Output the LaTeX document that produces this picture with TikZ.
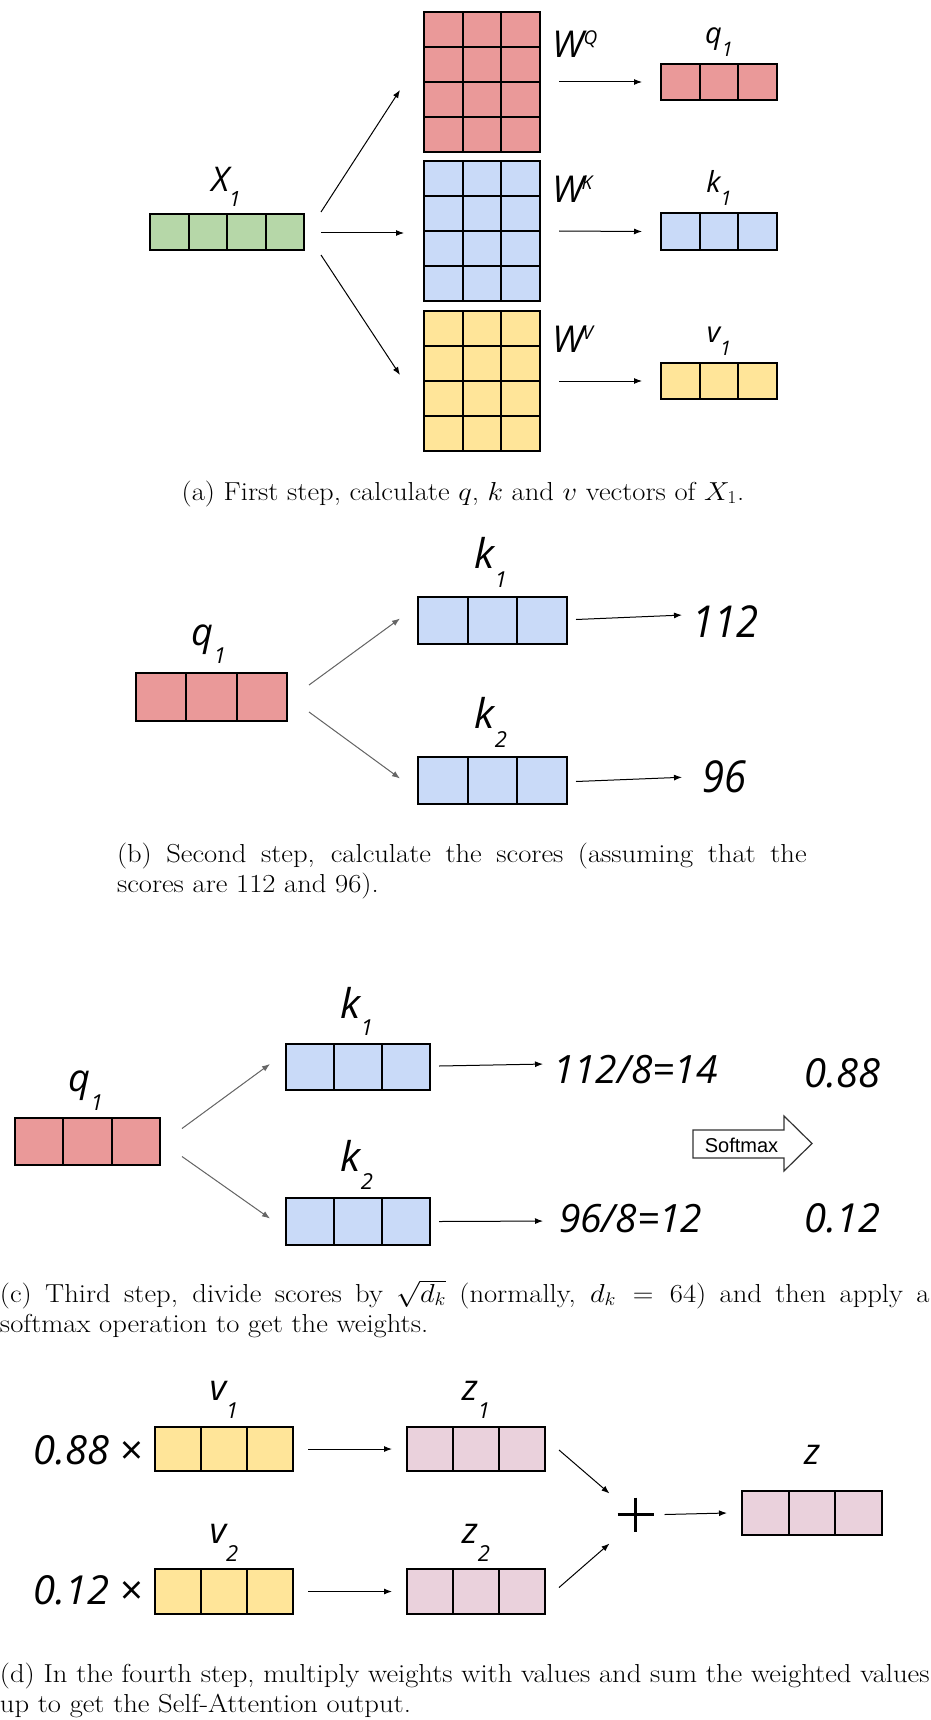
\RequirePackage{fix-cm}
\documentclass[tikz,border=0pt]{standalone}
\usepackage{fontspec}
\setmainfont{Latin Modern Roman}
\newfontfamily\lblfont{Open Sans}
\newfontfamily\arialfont{Liberation Sans}
\usetikzlibrary{arrows.meta}
\definecolor{cred}{HTML}{EA9999}
\definecolor{cblue}{HTML}{C9DAF8}
\definecolor{cyel}{HTML}{FFE599}
\definecolor{cgreen}{HTML}{B6D7A8}
\definecolor{cpink}{HTML}{EAD1DC}
\definecolor{garrow}{HTML}{666666}
\newcommand\capfont{\fontsize{26}{30.5}\selectfont}
\tikzset{
  gridbox/.style={draw=black, line width=2pt, inner sep=0pt, outer sep=0pt, anchor=north west},
  cellline/.style={draw=black, line width=2pt},
  arr/.style={-{Latex[length=8pt,width=6pt]}, line width=1pt, draw=black},
  garr/.style={-{Latex[length=8pt,width=6pt]}, line width=1pt, draw=garrow, fill=garrow},
  lbl/.style={inner sep=0pt, outer sep=0pt, anchor=base, font=\lblfont\itshape},
  captext/.style={inner sep=0pt, outer sep=0pt, font=\capfont},
}
\newcommand\gridnode[8]{%
  \node[gridbox, fill=#8, minimum width={#4pt-#2pt}, minimum height={#5pt-#3pt}] (#1) at (#2,#3) {};
  \foreach \i in {1,...,#6}{\ifnum\i<#6\relax \draw[cellline] ({#2+\i*(#4-#2)/#6},#3) -- ({#2+\i*(#4-#2)/#6},#5);\fi}
  \foreach \j in {1,...,#7}{\ifnum\j<#7\relax \draw[cellline] (#2,{#3+\j*(#5-#3)/#7}) -- (#4,{#3+\j*(#5-#3)/#7});\fi}
}
\newcommand\lab[5]{{\fontsize{#1}{#1}\selectfont #2}\raisebox{-#4pt}{\fontsize{#3}{#3}\selectfont #5}}
\newcommand\wlab[2]{{\fontsize{37}{37}\selectfont W}\kern#2pt\raisebox{13pt}{\fontsize{19}{19}\selectfont #1}}
\newcommand\num[2]{\scalebox{1}[1.1]{\fontsize{#1}{#1}\selectfont #2}}
\begin{document}
\begin{tikzpicture}[x=1pt,y=-1pt]
\fill[white] (0,0) rectangle (930,1720);
\useasboundingbox (0,0) rectangle (930,1720);
% ---------- (a)
\gridnode{x1}{150}{214}{304}{250}{4}{1}{cgreen}
\gridnode{wq}{424}{12}{540}{152}{3}{4}{cred}
\gridnode{wk}{424}{161}{540}{301}{3}{4}{cblue}
\gridnode{wv}{424}{311}{540}{451}{3}{4}{cyel}
\gridnode{q1}{661}{64}{777}{100}{3}{1}{cred}
\gridnode{k1}{661}{213}{777}{250}{3}{1}{cblue}
\gridnode{v1}{661}{363}{777}{399}{3}{1}{cyel}
\node[lbl] (lx1) at (226,192) {\lab{34}{X}{21}{15}{1}};
\node[lbl, anchor=base west] (lwq) at (552,58) {\wlab{Q}{0}};
\node[lbl, anchor=base west] (lwk) at (552,203) {\wlab{K}{-2}};
\node[lbl, anchor=base west] (lwv) at (552,352) {\wlab{V}{-1}};
\node[lbl] (lq1) at (719,44) {\lab{29}{q}{20}{13}{1}};
\node[lbl] (lk1) at (719,193) {\lab{29}{k}{20}{13}{1}};
\node[lbl] (lv1) at (719,342) {\lab{29}{v}{20}{13}{1}};
\draw[arr] ([shift={(17,-20)}]x1.east) -- ([shift={(-24,8)}]wq.west);
\draw[arr] ([shift={(17,1)}]x1.east) -- ([shift={(-20,2)}]wk.west);
\draw[arr] ([shift={(17,23)}]x1.east) -- ([shift={(-24,-6)}]wv.west);
\draw[arr] ([xshift=19pt]wq.east) -- ([xshift=-19pt]q1.west);
\draw[arr] ([xshift=19pt]wk.east) -- ([xshift=-19pt]k1.west);
\draw[arr] ([xshift=19pt]wv.east) -- ([xshift=-19pt]v1.west);
\node[captext, anchor=base] (capa) at (463,500) {\scalebox{1.1}[1]{(a) First step, calculate $q$, $k$ and $v$ vectors of $X_1$.}};
% ---------- (b)
\gridnode{bq1}{136}{673}{287}{721}{3}{1}{cred}
\gridnode{bk1}{418}{597}{567}{644}{3}{1}{cblue}
\gridnode{bk2}{418}{757}{567}{804}{3}{1}{cblue}
\node[lbl] (lbq1) at (209,645) {\lab{38}{q}{22}{18}{1}};
\node[lbl] (lbk1) at (491,568) {\lab{41}{k}{22}{19}{1}};
\node[lbl] (lbk2) at (491,728) {\lab{41}{k}{22}{19}{2}};
\node[lbl, anchor=base west] (s1) at (692,637) {\num{40}{112}};
\node[lbl, anchor=base west] (s2) at (702,792) {\num{40}{96}};
\draw[garr] ([shift={(22,-12)}]bq1.east) -- ([shift={(-18,-2)}]bk1.west);
\draw[garr] ([shift={(22,15)}]bq1.east) -- ([shift={(-18,-2)}]bk2.west);
\draw[arr] ([shift={(9,-1)}]bk1.east) -- ([shift={(-10,-6)}]s1.west);
\draw[arr] ([shift={(9,1)}]bk2.east) -- ([shift={(-20,1)}]s2.west);
\node[captext, anchor=base west] (capb) at (117,862) {\scalebox{1.1}[1]{\parbox[t]{627pt}{(b) Second step, calculate the scores (assuming that the\linebreak scores are 112 and 96).}}};
% ---------- (c)
\gridnode{cq1}{15}{1118}{160}{1165}{3}{1}{cred}
\gridnode{ck1}{286}{1044}{430}{1090}{3}{1}{cblue}
\gridnode{ck2}{286}{1198}{430}{1245}{3}{1}{cblue}
\node[lbl] (lcq1) at (86,1091) {\lab{38}{q}{22}{19}{1}};
\node[lbl] (lck1) at (357,1018) {\lab{41}{k}{22}{17}{1}};
\node[lbl] (lck2) at (357,1171) {\lab{41}{k}{22}{18}{2}};
\node[lbl, anchor=base west] (t1) at (553,1083) {\fontsize{39}{39}\selectfont 112/8=14};
\node[lbl, anchor=base west] (t2) at (559,1232) {\fontsize{39}{39}\selectfont 96/8=12};
\node[lbl, anchor=base west] (p1) at (804,1087) {\fontsize{40}{40}\selectfont 0.88};
\node[lbl, anchor=base west] (p2) at (804,1232) {\fontsize{40}{40}\selectfont 0.12};
\draw[garr] ([shift={(22,-13)}]cq1.east) -- ([shift={(-16,-3)}]ck1.west);
\draw[garr] ([shift={(22,15)}]cq1.east) -- ([shift={(-16,-3)}]ck2.west);
\draw[arr] ([shift={(9,-1)}]ck1.east) -- ([shift={(-10,-5)}]t1.west);
\draw[arr] ([shift={(9,0)}]ck2.east) -- ([shift={(-16,3)}]t2.west);
\draw[line width=1.2pt, draw=black!80, fill=white] (693,1130) -- (784,1130) -- (784,1116) -- (812,1143.5) -- (784,1171) -- (784,1158) -- (693,1158) -- cycle;
\node[inner sep=0pt, anchor=base, font=\arialfont\fontsize{20}{20}\selectfont] (smx) at (741.5,1152) {Softmax};
\node[captext, anchor=base west] (capc) at (0,1302) {\scalebox{1.1}[1]{\parbox[t]{845pt}{(c) Third step, divide scores by $\sqrt{d_k}$ (normally, $d_k = 64$) and then apply a\linebreak softmax operation to get the weights.}}};
% ---------- (d)
\gridnode{dv1}{155}{1427}{293}{1471}{3}{1}{cyel}
\gridnode{dz1}{407}{1427}{545}{1471}{3}{1}{cpink}
\gridnode{dv2}{155}{1569}{293}{1614}{3}{1}{cyel}
\gridnode{dz2}{407}{1569}{545}{1614}{3}{1}{cpink}
\gridnode{dz}{742}{1491}{882}{1535}{3}{1}{cpink}
\node[lbl] (ldv1) at (224,1400) {\lab{36}{v}{22}{18}{1}};
\node[lbl] (ldz1) at (476,1400) {\lab{36}{z}{22}{18}{1}};
\node[lbl] (ldv2) at (224,1543) {\lab{36}{v}{22}{18}{2}};
\node[lbl] (ldz2) at (476,1543) {\lab{36}{z}{22}{18}{2}};
\node[lbl] (ldz) at (812,1464) {\fontsize{36}{36}\selectfont z};
\node[lbl, anchor=base east] (w1) at (143,1464) {\fontsize{40}{40}\selectfont 0.88 {\upshape ×}};
\node[lbl, anchor=base east] (w2) at (143,1604) {\fontsize{40}{40}\selectfont 0.12 {\upshape ×}};
\node[inner sep=0pt, outer sep=0pt, minimum width=36pt, minimum height=34pt] (plus) at (635.5,1514.5) {};
\draw[line width=3.5pt] (plus.west) -- (plus.east) (plus.north) -- (plus.south);
\draw[arr] ([xshift=15pt]dv1.east) -- ([xshift=-15pt]dz1.west);
\draw[arr] ([xshift=15pt]dv2.east) -- ([xshift=-15pt]dz2.west);
\draw[arr] ([shift={(14,1)}]dz1.east) -- ([shift={(-8,-4)}]plus.north west);
\draw[arr] ([shift={(14,-4)}]dz2.east) -- ([shift={(-8,12)}]plus.south west);
\draw[arr] ([xshift=11pt]plus.east) -- ([xshift=-15pt]dz.west);
\node[captext, anchor=base west] (capd) at (0,1682) {\scalebox{1.1}[1]{\parbox[t]{845pt}{(d) In the fourth step, multiply weights with values and sum the weighted values\linebreak up to get the Self-Attention output.}}};
\end{tikzpicture}
\end{document}
